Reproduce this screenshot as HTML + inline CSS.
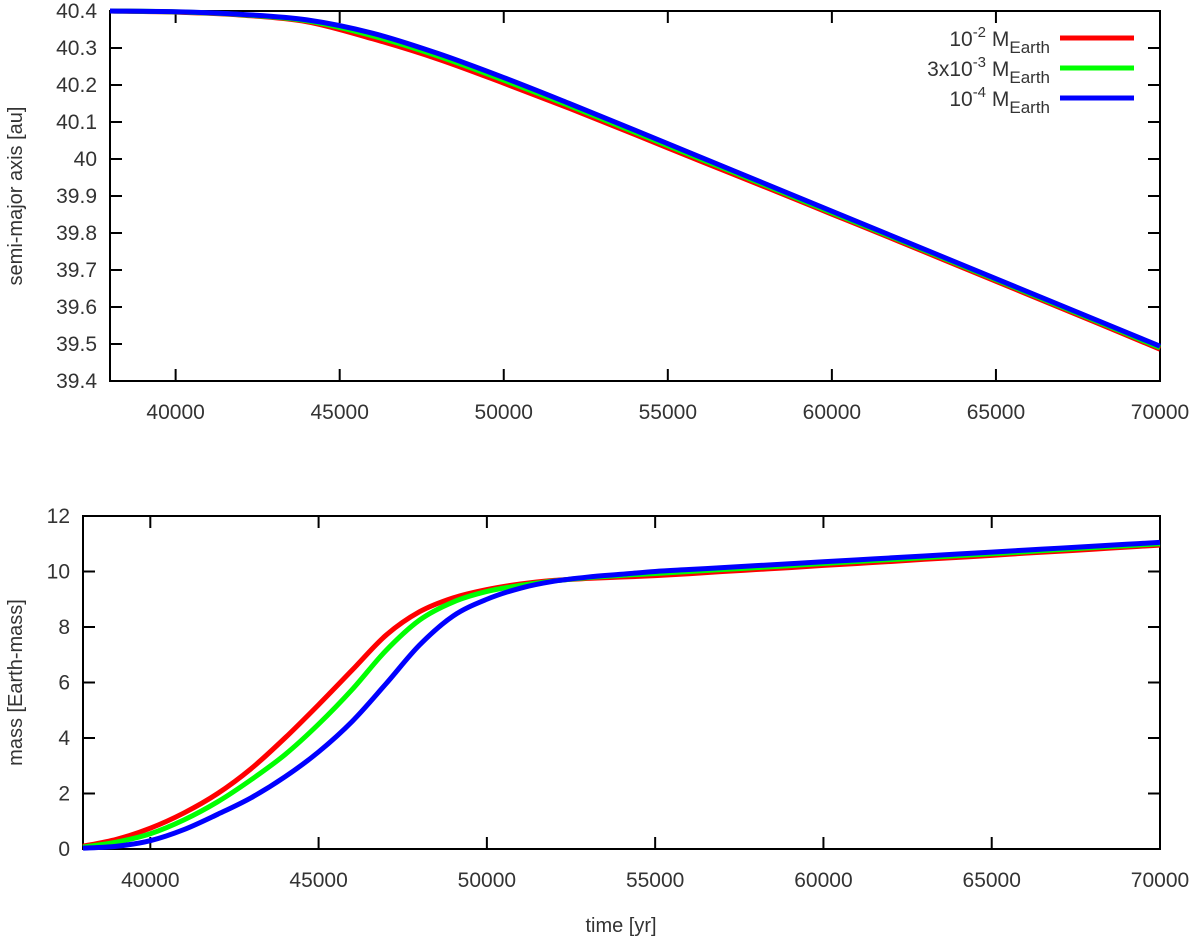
<!DOCTYPE html>
<html><head><meta charset="utf-8"><style>
html,body{margin:0;padding:0;background:#fff;}
svg text{font-family:"Liberation Sans",sans-serif;fill:#333;}
</style></head><body>
<svg id="chart" width="1200" height="940" xmlns="http://www.w3.org/2000/svg"></svg>
<script>
const xsTop=[38000,40000,42000,44000,46000,48000,50000,52000,54000,56000,58000,60000,62000,64000,66000,68000,70000];
const aRed=[40.4,40.397,40.389,40.371,40.325,40.27,40.205,40.137,40.066,39.994,39.923,39.851,39.779,39.706,39.633,39.56,39.486];
const aGreen=[40.4,40.3975,40.39,40.3735,40.333,40.278,40.213,40.144,40.072,40.0,39.928,39.855,39.783,39.71,39.637,39.564,39.49];
const aBlue=[40.4,40.398,40.391,40.376,40.34,40.285,40.22,40.15,40.078,40.005,39.932,39.859,39.786,39.713,39.64,39.567,39.494];
const xsBot=[38000,39000,40000,41000,42000,43000,44000,45000,46000,47000,48000,49000,50000,51000,52000,53000,54000,55000,56000,57000,58000,59000,60000,61000,62000,63000,64000,65000,66000,67000,68000,69000,70000];
const mRed=[0.1,0.35,0.75,1.3,2.0,2.9,4.0,5.2,6.45,7.7,8.55,9.05,9.35,9.55,9.68,9.75,9.8,9.85,9.92,10.0,10.07,10.14,10.22,10.29,10.36,10.44,10.51,10.58,10.66,10.73,10.8,10.88,10.95];
const mGreen=[0.07,0.25,0.55,1.05,1.7,2.5,3.4,4.5,5.75,7.15,8.25,8.9,9.28,9.5,9.66,9.78,9.86,9.93,10.0,10.07,10.14,10.21,10.29,10.36,10.43,10.5,10.57,10.64,10.71,10.79,10.86,10.93,11.0];
const mBlue=[0.03,0.1,0.3,0.7,1.25,1.85,2.6,3.5,4.6,5.95,7.35,8.4,9.0,9.4,9.65,9.8,9.9,10.0,10.07,10.14,10.21,10.28,10.35,10.42,10.49,10.56,10.63,10.7,10.77,10.84,10.91,10.98,11.05];
const xTicks=[40000,45000,50000,55000,60000,65000,70000];
const aTicks=[39.4,39.5,39.6,39.7,39.8,39.9,40,40.1,40.2,40.3,40.4];
const mTicks=[0,2,4,6,8,10,12];
const seriesNames=["red","green","blue"];
const colors=["#ff0000","#00ff00","#0000ff"];

const svg=document.getElementById('chart');
const NS="http://www.w3.org/2000/svg";
function mk(tag,attrs,parent){const e=document.createElementNS(NS,tag);for(const k in attrs)e.setAttribute(k,attrs[k]);(parent||svg).appendChild(e);return e;}
function path(pts){let d="M"+pts[0][0]+","+pts[0][1];for(let i=0;i<pts.length-1;i++){const p0=pts[Math.max(0,i-1)],p1=pts[i],p2=pts[i+1],p3=pts[Math.min(pts.length-1,i+2)];
d+=" C"+(p1[0]+(p2[0]-p0[0])/6)+","+(p1[1]+(p2[1]-p0[1])/6)+" "+(p2[0]-(p3[0]-p1[0])/6)+","+(p2[1]-(p3[1]-p1[1])/6)+" "+p2[0]+","+p2[1];}return d;}

function panel(cfg){
  const g=mk('g',{});
  
  
  const X=v=>cfg.L+(v-38000)/(70000-38000)*(cfg.R-cfg.L);
  const Y=v=>cfg.B-(v-cfg.ymin)/(cfg.ymax-cfg.ymin)*(cfg.B-cfg.T);
  const ax=mk('rect',{x:cfg.L,y:cfg.T,width:cfg.R-cfg.L,height:cfg.B-cfg.T,fill:'none',stroke:'#000','stroke-width':2},g);
  
  
  xTicks.forEach(t=>{const x=X(t);
    mk('line',{x1:x,x2:x,y1:cfg.B,y2:cfg.B-12,stroke:'#000','stroke-width':2},g);
    mk('line',{x1:x,x2:x,y1:cfg.T,y2:cfg.T+12,stroke:'#000','stroke-width':2},g);
    const tx=mk('text',{x:x,y:cfg.B+38,'font-size':21,'text-anchor':'middle'},g);tx.textContent=t;
    
    });
  cfg.ticks.forEach(t=>{const y=Y(t);
    mk('line',{x1:cfg.L,x2:cfg.L+12,y1:y,y2:y,stroke:'#000','stroke-width':2},g);
    mk('line',{x1:cfg.R,x2:cfg.R-12,y1:y,y2:y,stroke:'#000','stroke-width':2},g);
    const tx=mk('text',{x:cfg.L-13,y:y+7,'font-size':21,'text-anchor':'end'},g);tx.textContent=cfg.fmt(t);
    
    });
  const yt=mk('text',{x:0,y:0,'font-size':20,'text-anchor':'middle',transform:`translate(${cfg.ytx},${(cfg.T+cfg.B)/2}) rotate(-90)`},g);
  yt.textContent=cfg.ytitle;
  
  
  cfg.series.forEach((s,i)=>{
    const p=mk('path',{d:path(cfg.xs.map((x,j)=>[X(x),Y(s[j])])),fill:'none',stroke:colors[i],'stroke-width':5,'stroke-linejoin':'round'},g);
    
    
  });
}
panel({name:'top-panel',L:110,R:1160,T:11,B:381,ymin:39.4,ymax:40.4,ticks:aTicks,fmt:t=>(Math.round(t*10)/10).toString(),ytitle:'semi-major axis [au]',ytx:22,xs:xsTop,series:[aRed,aGreen,aBlue]});
panel({name:'bottom-panel',L:83,R:1160,T:516,B:849,ymin:0,ymax:12,ticks:mTicks,fmt:t=>t,ytitle:'mass [Earth-mass]',ytx:22,xs:xsBot,series:[mRed,mGreen,mBlue]});

const xt=mk('text',{x:621,y:932,'font-size':20,'text-anchor':'middle'});
xt.textContent='time [yr]';



const legend=[["10","-2",""],["3x10","-3",""],["10","-4",""]];
legend.forEach((l,i)=>{
  const y=38+i*30;
  const g=mk('g',{});
  
  
  const t=mk('text',{x:1050,y:y+8,'font-size':21,'text-anchor':'end'},g);
  t.innerHTML=`${l[0]}<tspan dy="-9" font-size="15">${l[1]}</tspan><tspan dy="9"> M</tspan><tspan dy="7" font-size="17">Earth</tspan>`;
  mk('line',{x1:1060,x2:1134,y1:y,y2:y,stroke:colors[i],'stroke-width':5},g);
});
</script>
</body></html>
